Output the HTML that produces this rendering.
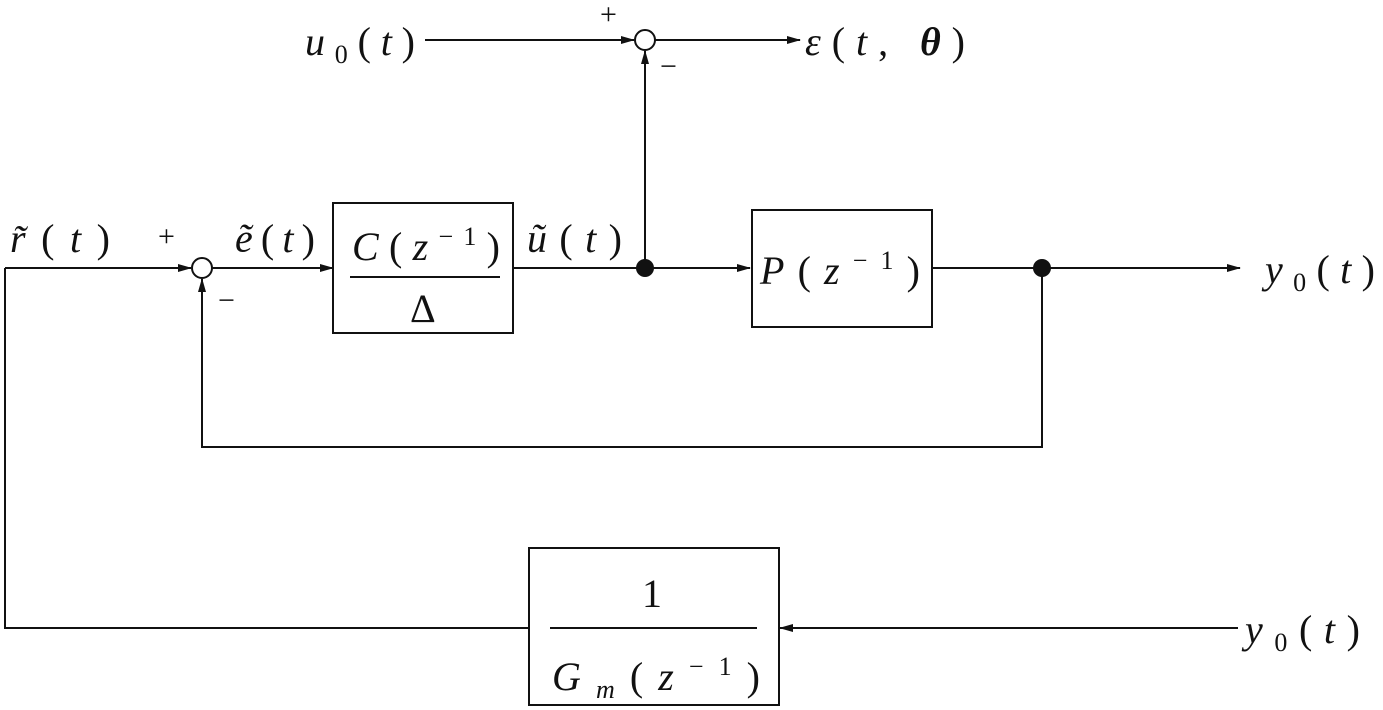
<!DOCTYPE html>
<html><head><meta charset="utf-8"><style>
html,body{margin:0;padding:0;background:#fff;}
svg{display:block;}
text{font-family:"Liberation Serif","DejaVu Serif",serif;font-style:italic;fill:#111;}
.n{font-style:normal;}
</style></head><body>
<svg width="1383" height="710" viewBox="0 0 1383 710" xmlns="http://www.w3.org/2000/svg">
<defs>
<marker id="a" markerWidth="14" markerHeight="10" refX="13" refY="5" orient="auto" markerUnits="userSpaceOnUse">
<path d="M0,1 L14,5 L0,9 Z" fill="#111"/></marker>
</defs>
<g stroke="#111" stroke-width="2" fill="none">
<line x1="425" y1="40" x2="634" y2="40" marker-end="url(#a)"/>
<circle cx="645" cy="40" r="10" fill="#fff"/>
<line x1="655" y1="40" x2="800" y2="40" marker-end="url(#a)"/>
<line x1="645" y1="268" x2="645" y2="51" marker-end="url(#a)"/>
<line x1="5" y1="268" x2="191" y2="268" marker-end="url(#a)"/>
<circle cx="202" cy="268" r="10" fill="#fff"/>
<line x1="212" y1="268" x2="333" y2="268" marker-end="url(#a)"/>
<rect x="333" y="203" width="180" height="130"/>
<line x1="513" y1="268" x2="750" y2="268" marker-end="url(#a)"/>
<rect x="752" y="210" width="180" height="117"/>
<line x1="932" y1="268" x2="1240" y2="268" marker-end="url(#a)"/>
<polyline points="1042,268 1042,447 202,447 202,279" marker-end="url(#a)"/>
<polyline points="5,268 5,628 529,628"/>
<rect x="529" y="548" width="250" height="157"/>
<line x1="1238" y1="628" x2="780" y2="628" marker-end="url(#a)"/>
<line x1="350" y1="277" x2="500" y2="277"/>
<line x1="550" y1="628" x2="757" y2="628"/>
</g>
<circle cx="645" cy="268" r="9" fill="#111"/>
<circle cx="1042" cy="268" r="9" fill="#111"/>
<g font-size="40">
<text x="305" y="55" textLength="110" lengthAdjust="spacing">u<tspan class="n" font-size="26" dy="8">0</tspan><tspan class="n" dy="-8">(</tspan>t<tspan class="n">)</tspan></text>
<text x="805" y="55" textLength="160" lengthAdjust="spacing">ε<tspan class="n">(</tspan>t<tspan class="n">, </tspan><tspan font-weight="bold">θ</tspan><tspan class="n">)</tspan></text>
<text x="10" y="252" textLength="100" lengthAdjust="spacing">r̃<tspan class="n">(</tspan>t<tspan class="n">)</tspan></text>
<text x="235" y="252" textLength="80" lengthAdjust="spacing">ẽ<tspan class="n">(</tspan>t<tspan class="n">)</tspan></text>
<text x="527" y="252" textLength="95" lengthAdjust="spacing">ũ<tspan class="n">(</tspan>t<tspan class="n">)</tspan></text>
<text x="352" y="260" textLength="148" lengthAdjust="spacing">C<tspan class="n">(</tspan>z<tspan class="n" font-size="26" dy="-15">−1</tspan><tspan class="n" dy="15">)</tspan></text>
<text class="n" x="410" y="322">Δ</text>
<text x="760" y="284" textLength="160" lengthAdjust="spacing">P<tspan class="n">(</tspan>z<tspan class="n" font-size="26" dy="-15">−1</tspan><tspan class="n" dy="15">)</tspan></text>
<text x="1265" y="283" textLength="110" lengthAdjust="spacing">y<tspan class="n" font-size="26" dy="8">0</tspan><tspan class="n" dy="-8">(</tspan>t<tspan class="n">)</tspan></text>
<text x="1245" y="643" textLength="115" lengthAdjust="spacing">y<tspan class="n" font-size="26" dy="8">0</tspan><tspan class="n" dy="-8">(</tspan>t<tspan class="n">)</tspan></text>
<text class="n" x="642" y="607">1</text>
<text x="552" y="690" textLength="208" lengthAdjust="spacing">G<tspan font-size="26" dy="8">m</tspan><tspan class="n" dy="-8">(</tspan>z<tspan class="n" font-size="26" dy="-15">−1</tspan><tspan class="n" dy="15">)</tspan></text>
</g>
<g font-size="30">
<text class="n" x="600" y="24">+</text>
<text class="n" x="660" y="76">−</text>
<text class="n" x="158" y="246">+</text>
<text class="n" x="218" y="310">−</text>
</g>
</svg>
</body></html>
